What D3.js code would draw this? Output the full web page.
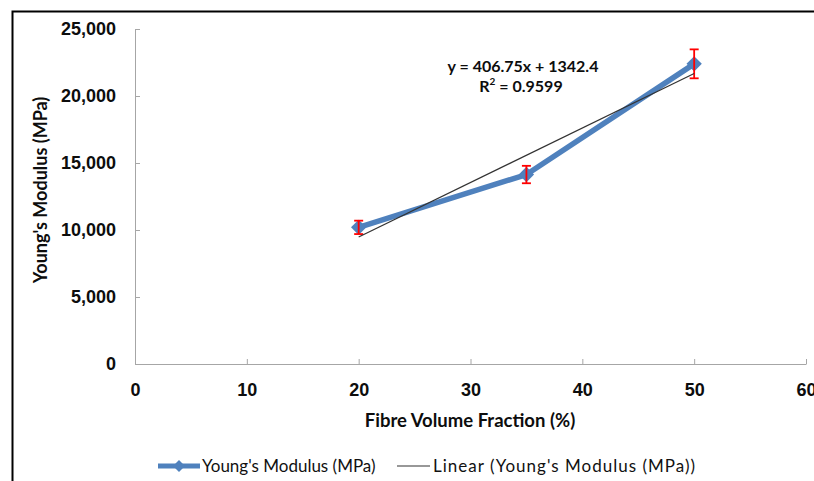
<!DOCTYPE html>
<html>
<head>
<meta charset="utf-8">
<script src="https://cdn.jsdelivr.net/npm/d3@7"></script>
<style>
  body { margin: 0; background: #fff; }
  svg { display: block; font-family: Lato, 'Open Sans', sans-serif; }
  .axis path, .axis line { stroke: #a6a6a6; }
  .axis text { font-size: 18px; font-weight: bold; fill: #0d0d0d; }
</style>
</head>
<body>
<div class="display"></div>
<script>
// Young's modulus vs fibre volume fraction, with error bars and linear trend

const WIDTH = 814;
const HEIGHT = 481;

// data
const fibreFraction = [20, 35, 50];
const modulus = [10197, 14139, 22400];
const modulusErr = [500, 650, 1080];

// linear trendline as printed on the chart
const trendSlope = 406.75;
const trendIntercept = 1342.4;
const trendRange = [20, 50];

const xTicks = [0, 10, 20, 30, 40, 50, 60];
const yTicks = [0, 5000, 10000, 15000, 20000, 25000];

const BLUE = '#4f81bd';

const svg = d3.select('.display')
  .append('svg')
  .attr('width', WIDTH)
  .attr('height', HEIGHT);

svg.append('rect').attr('width', WIDTH).attr('height', HEIGHT).attr('fill', '#fff');

// chart frame (only left and top edges are in view)
svg.append('path')
  .attr('d', 'M12.5,' + HEIGHT + 'V11.5H' + WIDTH)
  .attr('fill', 'none')
  .attr('stroke', '#000')
  .attr('stroke-width', 2);

const x = d3.scaleLinear().domain([0, 60]).range([135, 806]);
const y = d3.scaleLinear().domain([0, 25000]).range([364, 29]);

svg.append('g')
  .attr('class', 'axis')
  .attr('transform', 'translate(0,' + y(0) + ')')
  .call(d3.axisBottom(x).tickValues(xTicks).tickSize(-5).tickSizeOuter(0).tickPadding(19).tickFormat(d3.format('d')));

svg.append('g')
  .attr('class', 'axis')
  .attr('transform', 'translate(' + x(0) + ',0)')
  .call(d3.axisLeft(y).tickValues(yTicks).tickSize(-5).tickSizeOuter(0).tickPadding(19).tickFormat(d3.format(',')));

// axis titles
svg.append('text')
  .attr('x', 470)
  .attr('y', 427)
  .attr('text-anchor', 'middle')
  .attr('font-size', 18.5)
  .attr('font-weight', 'bold')
  .attr('fill', '#0d0d0d')
  .text('Fibre Volume Fraction (%)');

svg.append('text')
  .attr('transform', 'translate(47,190) rotate(-90)')
  .attr('text-anchor', 'middle')
  .attr('font-size', 18)
  .attr('font-weight', 'bold')
  .attr('fill', '#0d0d0d')
  .text("Young's Modulus (MPa)");

const points = fibreFraction.map((f, i) => ({ f: f, m: modulus[i], e: modulusErr[i] }));

// series line
svg.append('path')
  .datum(points)
  .attr('fill', 'none')
  .attr('stroke', BLUE)
  .attr('stroke-width', 5.5)
  .attr('stroke-linejoin', 'round')
  .attr('d', d3.line().x(d => x(d.f)).y(d => y(d.m)));

const diamond = d3.symbol().type(d3.symbolDiamond2).size(150);

svg.append('g')
  .selectAll('path')
  .data(points)
  .enter()
  .append('path')
  .attr('d', diamond)
  .attr('fill', BLUE)
  .attr('transform', d => 'translate(' + x(d.f) + ',' + y(d.m) + ')');

// error bars
const bars = svg.append('g')
  .attr('stroke', '#ff0000')
  .attr('stroke-width', 1.8)
  .selectAll('g')
  .data(points)
  .enter()
  .append('g');

bars.append('line')
  .attr('x1', d => x(d.f)).attr('x2', d => x(d.f))
  .attr('y1', d => y(d.m + d.e)).attr('y2', d => y(d.m - d.e));
bars.append('line')
  .attr('x1', d => x(d.f) - 4.5).attr('x2', d => x(d.f) + 4.5)
  .attr('y1', d => y(d.m + d.e)).attr('y2', d => y(d.m + d.e));
bars.append('line')
  .attr('x1', d => x(d.f) - 4.5).attr('x2', d => x(d.f) + 4.5)
  .attr('y1', d => y(d.m - d.e)).attr('y2', d => y(d.m - d.e));

// trendline
svg.append('path')
  .datum(trendRange)
  .attr('fill', 'none')
  .attr('stroke', '#333')
  .attr('stroke-width', 1.2)
  .attr('d', d3.line().x(d => x(d)).y(d => y(trendSlope * d + trendIntercept)));

const eq = svg.append('text')
  .attr('text-anchor', 'middle')
  .attr('font-size', 16)
  .attr('font-weight', 'bold')
  .attr('fill', '#0d0d0d');
eq.append('tspan').attr('x', 523).attr('y', 72).text('y = ' + trendSlope + 'x  + ' + trendIntercept);
eq.append('tspan').attr('x', 521).attr('y', 92).text('R').append('tspan').attr('dy', -7).attr('font-size', 10).text('2');
eq.append('tspan').attr('dy', 7).text(' = 0.9599');

// legend
const legend = svg.append('g').attr('transform', 'translate(0,466)');

legend.append('line')
  .attr('x1', 158).attr('x2', 200)
  .attr('stroke', BLUE).attr('stroke-width', 5);
legend.append('path')
  .attr('d', d3.symbol().type(d3.symbolDiamond2).size(90))
  .attr('fill', BLUE)
  .attr('transform', 'translate(179,0)');
legend.append('text')
  .attr('x', 202).attr('dy', '0.35em')
  .attr('font-size', 17)
  .attr('fill', '#111')
  .text("Young's Modulus (MPa)");

legend.append('line')
  .attr('x1', 397).attr('x2', 430)
  .attr('stroke', '#333').attr('stroke-width', 1.2);
legend.append('text')
  .attr('x', 433).attr('dy', '0.35em')
  .attr('font-size', 17)
  .attr('fill', '#111')
  .attr('textLength', 262)
  .attr('lengthAdjust', 'spacing')
  .text("Linear (Young's Modulus (MPa))");
</script>
</body>
</html>
